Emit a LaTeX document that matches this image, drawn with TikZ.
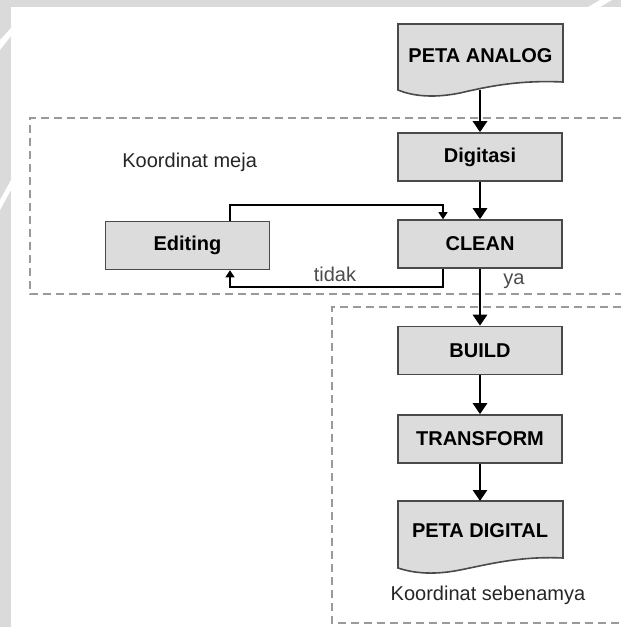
\documentclass[tikz,border=0pt]{standalone}
\usepackage{fontspec}
\setmainfont{Liberation Sans}
\usetikzlibrary{arrows.meta}
\definecolor{boxfill}{HTML}{DCDCDC}
\definecolor{boxline}{HTML}{4A4A4A}
\definecolor{dashc}{HTML}{9A9A9A}
\definecolor{wm}{HTML}{DADADA}
\begin{document}
\begin{tikzpicture}[x=0.5pt,y=-0.5pt,
  procbox/.style={draw=boxline, fill=boxfill, line width=0.8pt, minimum width=82pt, minimum height=24pt, inner sep=0pt, font=\fontsize{10}{12}\selectfont\bfseries},
  doclabel/.style={inner sep=0pt, font=\fontsize{10}{12}\selectfont\bfseries},
  docshape/.style={draw=boxline, fill=boxfill, line width=0.8pt},
  mainarrow/.style={line width=1.4pt, -{Triangle[width=7pt,length=5.5pt]}},
  looparrow/.style={line width=0.65pt, -{Triangle[width=4.5pt,length=3.5pt]}},
  zone/.style={draw=dashc, line width=0.75pt, dash pattern=on 4pt off 2.5pt},
  note/.style={inner sep=0pt, font=\fontsize{10}{12}\selectfont, text=black!85}]
\useasboundingbox (0,0) rectangle (621,627);
\fill[white] (0,0) rectangle (621,627);
% faint background marks
\fill[wm] (0,0) rectangle (11,627);
\fill[wm] (0,0) rectangle (621,7);
\fill[white] (588,7) -- (600,0) -- (612,0) -- (600,7) -- cycle;
\fill[white] (0,40) -- (11,28) -- (11,36) -- (0,50) -- cycle;
\fill[white] (0,200) -- (11,180) -- (11,190) -- (0,210) -- cycle;
% dashed zones
\draw[zone] (621,118) -- (30,118) -- (30,294) -- (621,294);
\draw[zone] (621,307) -- (332,307) -- (332,623) -- (621,623);
% document: PETA ANALOG
\draw[docshape] (398,24) -- (563,24) -- (563,82)
  .. controls (520,80) and (490,86) .. (460,93)
  .. controls (430,99) and (410,95) .. (398,90) -- cycle;
\node[doclabel] (analog) at (480.5,56) {PETA ANALOG};
\coordinate (analogbot) at (480,90);
% process boxes
\node[procbox] (digit) at (480,157) {Digitasi};
\node[procbox] (clean) at (480,244) {CLEAN};
\node[procbox] (edit) at (187.5,245.5) {Editing};
\node[procbox] (build) at (480,350.5) {BUILD};
\node[procbox] (trans) at (480,439) {TRANSFORM};
% document: PETA DIGITAL
\draw[docshape] (398,501) -- (563,501) -- (563,558)
  .. controls (520,556) and (490,564) .. (460,570)
  .. controls (430,576) and (410,572) .. (398,568) -- cycle;
\node[doclabel] (digital) at (480,531) {PETA DIGITAL};
\coordinate (digitaltop) at (480,501);
% main flow
\draw[mainarrow] (analogbot) -- (digit.north);
\draw[mainarrow] (digit) -- (clean);
\draw[mainarrow] (clean) -- (build);
\draw[mainarrow] (build) -- (trans);
\draw[mainarrow] (trans) -- (digitaltop);
% loop
\coordinate (lt) at (230,205);
\coordinate (rt) at (443,205);
\coordinate (lb) at (230,287);
\coordinate (rb) at (443,287);
\draw[looparrow] (edit.north -| lt) -- (lt) -- (rt) -- (rt |- clean.north);
\draw[looparrow] (rb |- clean.south) -- (rb) -- (lb) -- (lb |- edit.south);
% labels
\node[note, text=black!70] (tidak) at (335,274) {tidak};
\node[note, text=black!70] (ya) at (514,281) {ya};
\node[note, anchor=west] (meja) at (122,162) {Koordinat meja};
\node[note] (sebenar) at (488,595) {Koordinat sebenamya};
\end{tikzpicture}
\end{document}
